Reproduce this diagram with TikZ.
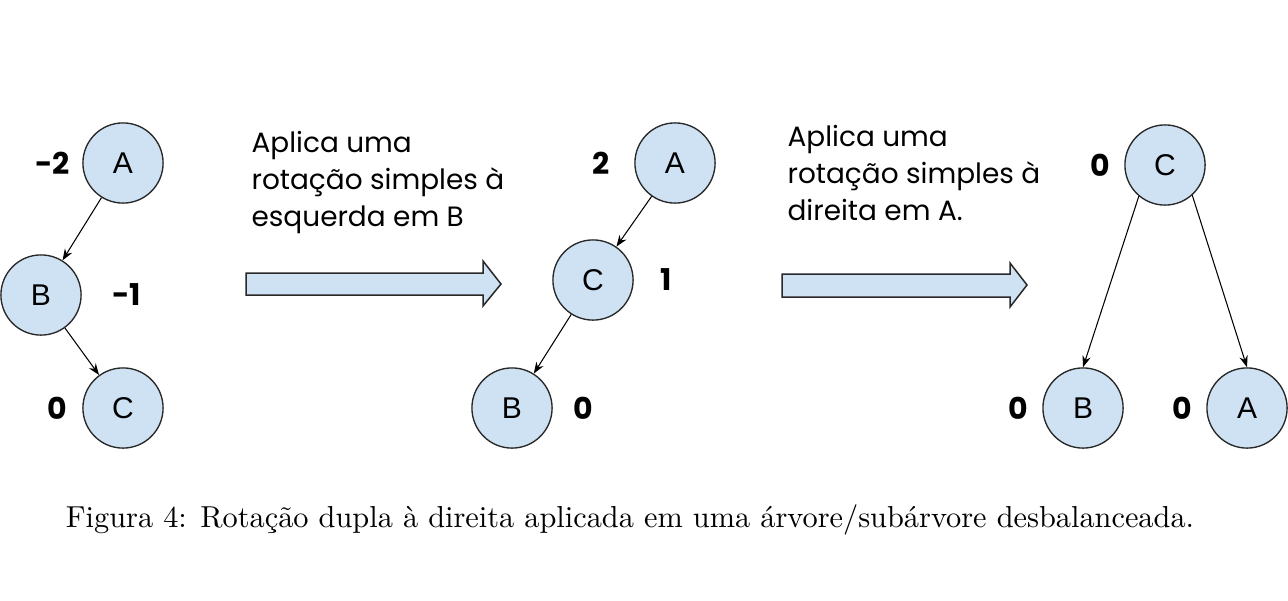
\documentclass[tikz,border=0pt]{standalone}
\usepackage{fontspec}
\newfontfamily\notefont{Poppins}
\newfontfamily\letterfont{Liberation Sans}
\usepackage{xcolor}
\usetikzlibrary{
    positioning,
    arrows.meta
}
\definecolor{nodefill}{RGB}{207,226,243}
\definecolor{nodeline}{RGB}{40,40,40}

\tikzset{
    avl/.style={circle, draw=nodeline, fill=nodefill, line width=0.45pt,
        minimum size=26.7pt, inner sep=0pt, font=\letterfont\fontsize{10}{12}\selectfont},
    bal/.style={inner sep=0pt, font=\notefont\bfseries\fontsize{10}{12}\selectfont},
    edge/.style={-{Stealth[length=3.8pt,width=2.8pt]}, line width=0.35pt, draw=black},
    note/.style={inner sep=0pt, anchor=north west, align=left,
        font=\notefont\fontsize{9.3}{12.3}\selectfont},
    bigarrow/.style={draw=nodeline, fill=nodefill, line width=0.5pt, line join=miter}
}

\begin{document}
\begin{tikzpicture}[x=0.333pt, y=-0.333pt]
            \useasboundingbox (0,0) rectangle (1288,600);
            \fill[white] (0,0) rectangle (1288,600);

            % antes
            \node[avl] (A1) at (123,163) {A};
            \node[avl] (B1) at (41,295) {B};
            \node[avl] (C1) at (123,408) {C};
            \draw[edge] (A1) -- (B1);
            \draw[edge] (B1) -- (C1);
            \node[bal, left=12pt*0.333 of A1] (bA1) {-2};
            \node[bal, right=30pt*0.333 of B1] (bB1) {-1};
            \node[bal, left=15pt*0.333 of C1] (bC1) {0};

            % primeira rotacao
            \node[note] (t1) at (251,131) {Aplica uma\\rotação simples à\\esquerda em B};
            \draw[bigarrow] (246,273) -- (483,273) -- (483,261) -- (501,284)
                -- (483,306) -- (483,295) -- (246,295) -- cycle;

            % depois da primeira
            \node[avl] (A2) at (675,163) {A};
            \node[avl] (C2) at (593,280) {C};
            \node[avl] (B2) at (512,408) {B};
            \draw[edge] (A2) -- (C2);
            \draw[edge] (C2) -- (B2);
            \node[bal, left=24pt*0.333 of A2] (bA2) {2};
            \node[bal, right=26pt*0.333 of C2] (bC2) {1};
            \node[bal, right=20pt*0.333 of B2] (bB2) {0};

            % segunda rotacao
            \node[note] (t2) at (787,125) {Aplica uma\\rotação simples à\\direita em A.};
            \draw[bigarrow] (782,274) -- (1010,274) -- (1010,263) -- (1027,285)
                -- (1010,307) -- (1010,297) -- (782,297) -- cycle;

            % depois da segunda
            \node[avl] (C3) at (1165,165) {C};
            \node[avl] (B3) at (1083,408) {B};
            \node[avl] (A3) at (1247,408) {A};
            \draw[edge] (C3.230) -- (B3.north);
            \draw[edge] (C3.312) -- (A3.north);
            \node[bal, left=14pt*0.333 of C3] (bC3) {0};
            \node[bal, left=14pt*0.333 of B3] (bB3) {0};
            \node[bal, left=14pt*0.333 of A3] (bA3) {0};

            \node[font=\fontsize{10.1}{12}\selectfont, inner sep=0pt] (cap) at (630,520)
                {Figura 4: Rotação dupla à direita aplicada em uma árvore/subárvore desbalanceada.};
        \end{tikzpicture}
\end{document}
